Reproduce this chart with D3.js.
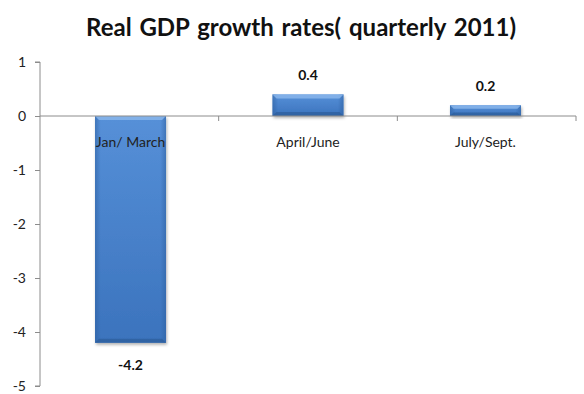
<!DOCTYPE html>
<html>
<head>
<meta charset="utf-8">
<script src="https://cdn.jsdelivr.net/npm/d3@7"></script>
<style>
  html, body { margin: 0; padding: 0; background: #fff; }
  svg { display: block; font-family: Lato, "Open Sans", sans-serif; }
</style>
</head>
<body>
<svg id="chart" width="584" height="394"></svg>
<script>
// Quarterly real GDP growth, 2011
const quarters = ["Jan/ March", "April/June", "July/Sept."];
const growth = [-4.2, 0.4, 0.2];
const valueLabels = ["-4.2", "0.4", "0.2"];
const yTicks = [1, 0, -1, -2, -3, -4, -5];

const svg = d3.select("#chart");
const W = 584, H = 394;
const mLeft = 40, mRight = 576, mTop = 62, mBottom = 386;

const x = d3.scaleBand().domain(quarters).range([mLeft, mRight]).paddingInner(0.6).paddingOuter(0.31);
const y = d3.scaleLinear().domain([-5, 1]).range([mBottom, mTop]);

// gradients for the bevelled bars
const defs = svg.append("defs");
const g = defs.append("linearGradient").attr("id", "barFill").attr("x1", 0).attr("x2", 0).attr("y1", 0).attr("y2", 1);
g.append("stop").attr("offset", "0%").attr("stop-color", "#5690d8");
g.append("stop").attr("offset", "100%").attr("stop-color", "#3b73bd");
const side = defs.append("linearGradient").attr("id", "barSide").attr("x1", 0).attr("x2", 1);
side.append("stop").attr("offset", "0%").attr("stop-color", "#2d5f9f").attr("stop-opacity", 0.55);
side.append("stop").attr("offset", "8%").attr("stop-color", "#2d5f9f").attr("stop-opacity", 0);
side.append("stop").attr("offset", "92%").attr("stop-color", "#2d5f9f").attr("stop-opacity", 0);
side.append("stop").attr("offset", "100%").attr("stop-color", "#2d5f9f").attr("stop-opacity", 0.55);
const flt = defs.append("filter").attr("id", "shadow").attr("x", "-20%").attr("y", "-20%").attr("width", "140%").attr("height", "140%");
flt.append("feDropShadow").attr("dx", 1).attr("dy", 2).attr("stdDeviation", 1.5).attr("flood-color", "#000").attr("flood-opacity", 0.3);

// title
svg.append("text")
  .attr("x", W / 2 + 9).attr("y", 36)
  .attr("text-anchor", "middle")
  .attr("font-size", 24).attr("font-weight", "bold").attr("fill", "#111")
  .attr("word-spacing", 2)
  .text("Real GDP growth rates( quarterly  2011)");

// y axis
const yAxis = d3.axisLeft(y).tickValues(yTicks).tickSize(5).tickFormat(d => String(d));
const ya = svg.append("g").attr("transform", `translate(${mLeft},0)`).call(yAxis);
ya.select(".domain").attr("stroke", "#8c8c8c").attr("d", `M-5,${mTop}H0V${mBottom}H-5`);
ya.selectAll(".tick line").attr("stroke", "#8c8c8c");
ya.selectAll(".tick text").attr("font-size", 14).attr("fill", "#222").attr("x", -14)
  .attr("font-family", "Lato, 'Open Sans', sans-serif");

// bars
const bars = svg.append("g");
quarters.forEach((q, i) => {
  const v = growth[i];
  const bx = x(q), bw = x.bandwidth();
  const y0 = y(Math.max(0, v)), h = Math.abs(y(v) - y(0));
  const grp = bars.append("g");
  grp.append("rect").attr("x", bx).attr("y", y0).attr("width", bw).attr("height", h)
    .attr("fill", "url(#barFill)").attr("filter", "url(#shadow)");
  grp.append("rect").attr("x", bx).attr("y", y0).attr("width", bw).attr("height", h)
    .attr("fill", "url(#barSide)");
  // top and bottom bevel
  const bev = Math.min(4, h / 3);
  grp.append("path")
    .attr("d", `M${bx},${y0}H${bx + bw}L${bx + bw - bev},${y0 + bev}H${bx + bev}Z`)
    .attr("fill", "#8cb8ec").attr("opacity", 0.8);
  grp.append("path")
    .attr("d", `M${bx},${y0 + h}H${bx + bw}L${bx + bw - bev},${y0 + h - bev}H${bx + bev}Z`)
    .attr("fill", "#2a5893").attr("opacity", 0.6);
});

// x axis at zero
const xAxis = d3.axisBottom(x).tickSize(0).tickFormat("");
const xa = svg.append("g").attr("transform", `translate(0,${y(0)})`).call(xAxis);
xa.select(".domain").attr("stroke", "#8c8c8c").attr("d", `M${mLeft},0H${mRight}`);
xa.selectAll(".tick").remove();
// category separators
const seps = d3.range(1, quarters.length + 1).map(k => mLeft + k * (mRight - mLeft) / quarters.length);
xa.selectAll("line.sep").data(seps).join("line").attr("class", "sep")
  .attr("x1", d => d).attr("x2", d => d).attr("y1", 0).attr("y2", 5).attr("stroke", "#8c8c8c");

// category labels
svg.append("g").selectAll("text").data(quarters).join("text")
  .attr("x", d => x(d) + x.bandwidth() / 2).attr("y", y(0) + 31)
  .attr("text-anchor", "middle").attr("font-size", 14).attr("fill", "#222")
  .text(d => d);

// value labels
svg.append("g").selectAll("text").data(quarters).join("text")
  .attr("x", d => x(d) + x.bandwidth() / 2)
  .attr("y", (d, i) => growth[i] >= 0 ? y(growth[i]) - 14 : y(growth[i]) + 27)
  .attr("text-anchor", "middle").attr("font-size", 14).attr("font-weight", "bold").attr("fill", "#111")
  .text((d, i) => valueLabels[i]);
</script>
</body>
</html>
